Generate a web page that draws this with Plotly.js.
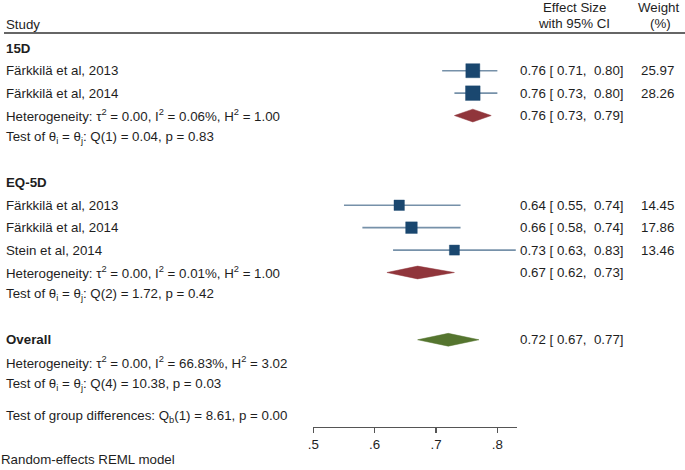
<!DOCTYPE html>
<html>
<head>
<meta charset="utf-8">
<script src="https://cdn.plot.ly/plotly-3.0.1.min.js"></script>
<style>
  html, body { margin: 0; padding: 0; background: #fff; }
  #forest { width: 685px; height: 470px; }
</style>
</head>
<body>
<div id="forest"></div>
<script>
// study level data
const groups = ['15D', 'EQ-5D'];
const studies = ['Färkkilä et al, 2013', 'Färkkilä et al, 2014', 'Färkkilä et al, 2013', 'Färkkilä et al, 2014', 'Stein et al, 2014'];
const studyGroup = [0, 0, 1, 1, 1];
const es = [0.76, 0.76, 0.64, 0.66, 0.73];
const lo = [0.71, 0.73, 0.55, 0.58, 0.63];
const hi = [0.80, 0.80, 0.74, 0.74, 0.83];
const weight = [25.97, 28.26, 14.45, 17.86, 13.46];

// subgroup summaries
const groupEs = [0.76, 0.67];
const groupLo = [0.73, 0.62];
const groupHi = [0.79, 0.73];
const groupHet = [
  'Heterogeneity: τ<sup>2</sup> = 0.00, I<sup>2</sup> = 0.06%, H<sup>2</sup> = 1.00',
  'Heterogeneity: τ<sup>2</sup> = 0.00, I<sup>2</sup> = 0.01%, H<sup>2</sup> = 1.00'
];
const groupTest = [
  'Test of θ<sub>i</sub> = θ<sub>j</sub>: Q(1) = 0.04, p = 0.83',
  'Test of θ<sub>i</sub> = θ<sub>j</sub>: Q(2) = 1.72, p = 0.42'
];

// overall
const overallEs = 0.72, overallLo = 0.67, overallHi = 0.77;
const overallHet = 'Heterogeneity: τ<sup>2</sup> = 0.00, I<sup>2</sup> = 66.83%, H<sup>2</sup> = 3.02';
const overallTest = 'Test of θ<sub>i</sub> = θ<sub>j</sub>: Q(4) = 10.38, p = 0.03';
const groupDiff = 'Test of group differences: Q<sub>b</sub>(1) = 8.61, p = 0.00';

const tickVals = [0.5, 0.6, 0.7, 0.8];
const tickText = ['.5', '.6', '.7', '.8'];

const NAVY = '#1a476f', MAROON = '#90353b', GREEN = '#55752f';
const TXT = '#1e1e1e';
const FONT = 'Liberation Sans, Arial, sans-serif';
const FS = 13.3;
const W = 685;
const px = p => p / W;   // pixel -> paper x

const fmt = (e, l, h) => e.toFixed(2) + ' [ ' + l.toFixed(2) + ',\u00a0 ' + h.toFixed(2) + ']';

// assign rows
const ann = [];
const text = (x, y, t, opts) => ann.push(Object.assign({
  xref: 'paper', yref: 'y', x: px(x), y: y, text: t, showarrow: false,
  xanchor: 'left', yanchor: 'middle', font: {family: FONT, size: FS, color: TXT}
}, opts || {}));

const studyRow = [];
const groupRow = [];
let row = 0;
groups.forEach((g, gi) => {
  text(4, row, '<b>' + g + '</b>');
  row++;
  studyGroup.forEach((sg, i) => {
    if (sg !== gi) return;
    studyRow[i] = row;
    text(4, row, studies[i]);
    text(518, row, fmt(es[i], lo[i], hi[i]));
    text(676, row, weight[i].toFixed(2), {xanchor: 'right'});
    row++;
  });
  groupRow[gi] = row;
  text(4, row, groupHet[gi]);
  text(518, row, fmt(groupEs[gi], groupLo[gi], groupHi[gi]));
  row++;
  text(4, row, groupTest[gi]);
  row += 2;
});
const overallRow = row;
text(4, row, '<b>Overall</b>');
text(518, row, fmt(overallEs, overallLo, overallHi));
text(4, row + 1, overallHet);
text(4, row + 2, overallTest);
text(4, row + 3.43, groupDiff);

// header
text(4, -1.08, 'Study');
text(574, -1.84, 'Effect Size', {xanchor: 'center'});
text(574, -1.1, 'with 95% CI', {xanchor: 'center'});
text(658, -1.84, 'Weight', {xanchor: 'center'});
text(660, -1.1, '(%)', {xanchor: 'center'});
ann.push({xref: 'paper', yref: 'paper', x: 0, y: 0.004, text: 'Random-effects REML model',
  showarrow: false, xanchor: 'left', yanchor: 'bottom', borderpad: 0,
  font: {family: FONT, size: FS, color: TXT}});

// traces
const ciX = [], ciY = [];
es.forEach((e, i) => { ciX.push(lo[i], hi[i], null); ciY.push(studyRow[i], studyRow[i], null); });
const traces = [{
  x: ciX, y: ciY, mode: 'lines', type: 'scatter', hoverinfo: 'skip',
  line: {color: 'rgba(26,71,111,0.6)', width: 1.6}, cliponaxis: false
}, {
  x: es, y: studyRow, mode: 'markers', type: 'scatter', cliponaxis: false,
  marker: {symbol: 'square', color: NAVY, opacity: 1, size: weight.map(w => 2.75 * Math.sqrt(w)),
           line: {color: 'rgba(26,71,111,0.5)', width: 0.8}}
}];

const dh = 0.285;
const diamond = (e, l, h, r, c) => ({
  x: [l, e, h, e, l], y: [r, r - dh, r, r + dh, r], type: 'scatter', mode: 'lines',
  fill: 'toself', fillcolor: c, line: {color: c, width: 0.5}, cliponaxis: false, hoverinfo: 'skip'
});
groups.forEach((g, gi) => traces.push(diamond(groupEs[gi], groupLo[gi], groupHi[gi], groupRow[gi], MAROON)));
traces.push(diamond(overallEs, overallLo, overallHi, overallRow, GREEN));

const layout = {
  width: 685, height: 470,
  margin: {l: 0, r: 0, t: 0, b: 0},
  paper_bgcolor: '#fff', plot_bgcolor: 'rgba(0,0,0,0)',
  showlegend: false,
  font: {family: FONT, size: FS, color: TXT},
  xaxis: {
    domain: [313.3 / W, 517 / W], range: [0.5, 0.832],
    showgrid: false, zeroline: false, showline: true,
    linecolor: '#555', linewidth: 1.3,
    ticks: 'outside', ticklen: 5, tickwidth: 1.3, tickcolor: '#555',
    tickvals: tickVals, ticktext: tickText,
    tickfont: {family: FONT, size: FS, color: TXT}, fixedrange: true
  },
  yaxis: {
    domain: [43 / 470, 1], range: [16.891, -2.154],
    visible: false, fixedrange: true
  },
  shapes: [{
    type: 'line', xref: 'paper', yref: 'y', x0: px(4), x1: 1, y0: -0.68, y1: -0.68,
    line: {color: '#333', width: 1.5}
  }],
  annotations: ann
};

Plotly.newPlot('forest', traces, layout, {staticPlot: true, displayModeBar: false});
</script>
</body>
</html>
